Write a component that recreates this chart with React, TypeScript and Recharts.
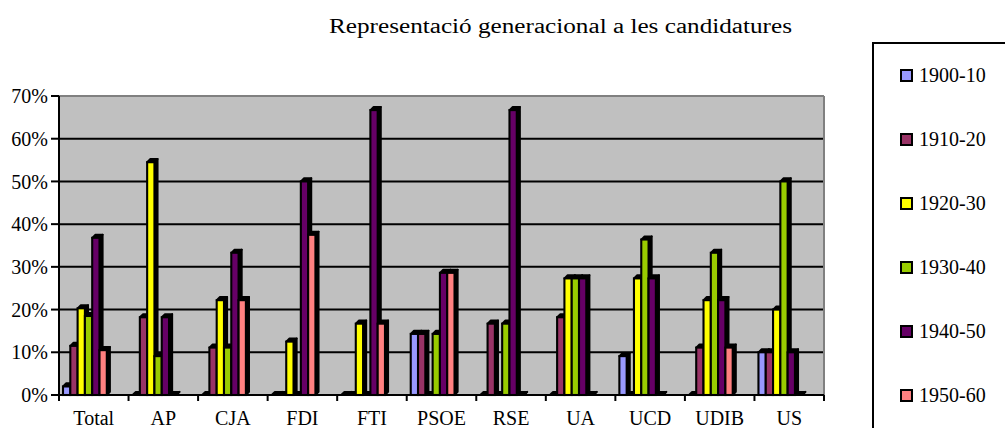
import React from 'react';
import { BarChart, Bar, XAxis, YAxis, CartesianGrid, Legend, ReferenceLine } from 'recharts';

const categories = ['Total', 'AP', 'CJA', 'FDI', 'FTI', 'PSOE', 'RSE', 'UA', 'UCD', 'UDIB', 'US'];
const seriesNames = ['1900-10', '1910-20', '1920-30', '1930-40', '1940-50', '1950-60'];
const s1900 = [2, 0, 0, 0, 0, 14.3, 0, 0, 9.1, 0, 10];
const s1910 = [11.5, 18.2, 11.1, 0, 0, 14.3, 16.7, 18.2, 0, 11.1, 10];
const s1920 = [20.3, 54.5, 22.2, 12.5, 16.7, 0, 0, 27.3, 27.3, 22.2, 20];
const s1930 = [18.5, 9.1, 11.1, 0, 0, 14.3, 16.7, 27.3, 36.4, 33.3, 50];
const s1940 = [36.8, 18.2, 33.3, 50, 66.7, 28.6, 66.7, 27.3, 27.3, 22.2, 10];
const s1950 = [10.5, 0, 22.2, 37.5, 16.7, 28.6, 0, 0, 0, 11.1, 0];
const seriesValues = [s1900, s1910, s1920, s1930, s1940, s1950];
const seriesColors = ['#9999FF', '#993366', '#FFFF00', '#99CC00', '#660066', '#FF8080'];
const yTicks = [0, 10, 20, 30, 40, 50, 60, 70];
const title = 'Representació generacional a les candidatures';

const data = categories.map((c, i) => {
  const row: Record<string, any> = { name: c };
  seriesNames.forEach((s, k) => {
    row[s] = seriesValues[k][i];
  });
  return row;
});

const W = 1005;
const H = 428;
const FONT = 'Liberation Serif';
const PLOT_LEFT = 59;
const PLOT_RIGHT = 824;
const BAND = (PLOT_RIGHT - PLOT_LEFT) / categories.length;
const SHIFT = -9;
const DEPTH = 3.2;

const Bar3D = (props: any) => {
  const { x, y, width, height, fill } = props;
  if (x == null || y == null) return null;
  const bx = x + SHIFT;
  const h = Math.max(0, height || 0);
  const d = DEPTH;
  const top = `${bx},${y} ${bx + d},${y - d} ${bx + width + d},${y - d} ${bx + width},${y}`;
  const side = `${bx + width},${y} ${bx + width + d},${y - d} ${bx + width + d},${y + h - d} ${bx + width},${y + h}`;
  return (
    <g>
      <polygon points={side} fill="#000" stroke="#000" strokeWidth={1.8} strokeLinejoin="round" />
      <polygon points={top} fill="#000" stroke="#000" strokeWidth={1.8} strokeLinejoin="round" />
      {h > 0 && (
        <rect x={bx} y={y} width={width} height={h} fill={fill} stroke="#000" strokeWidth={2.1} />
      )}
    </g>
  );
};

const XTick = (props: any) => {
  const { x, y, payload, index } = props;
  const axisY = y;
  const half = BAND / 2;
  return (
    <g>
      <line x1={x - half} y1={axisY} x2={x - half} y2={axisY + 6} stroke="#000" strokeWidth={2} />
      {index === categories.length - 1 && (
        <line x1={x + half} y1={axisY} x2={x + half} y2={axisY + 6} stroke="#000" strokeWidth={2} />
      )}
      <text x={x} y={axisY + 30} textAnchor="middle" style={{ fontFamily: FONT }} fontSize={20} fill="#000">
        {payload.value}
      </text>
    </g>
  );
};

const YTick = (props: any) => {
  const { x, y, payload } = props;
  return (
    <text x={x} y={y} dy="0.36em" textAnchor="end" style={{ fontFamily: FONT }} fontSize={20} fill="#000">
      {`${payload.value}%`}
    </text>
  );
};

const LegendContent = (props: any) => {
  const payload = props.payload || [];
  return (
    <div
      style={{
        width: 140,
        height: 400,
        border: '2px solid #000',
        boxSizing: 'border-box',
        background: '#fff',
        position: 'relative',
      }}
    >
      {payload.map((p: any, i: number) => (
        <div
          key={p.value}
          style={{
            position: 'absolute',
            left: 26,
            top: 31 + i * 64 - 12,
            height: 24,
            display: 'flex',
            alignItems: 'center',
            fontFamily: FONT,
            fontSize: 20,
            color: '#000',
            whiteSpace: 'nowrap',
          }}
        >
          <span
            style={{
              display: 'inline-block',
              width: 13,
              height: 13,
              boxSizing: 'border-box',
              border: '2px solid #000',
              background: p.color,
              marginRight: 6,
            }}
          />
          {p.value}
        </div>
      ))}
    </div>
  );
};

export default function App() {
  return (
    <div style={{ position: 'fixed', left: 0, top: 0, width: W, height: H, overflow: 'hidden', background: '#fff' }}>
      <BarChart
        width={W}
        height={H}
        data={data}
        margin={{ top: 96, right: W - PLOT_RIGHT, bottom: 0, left: 0 }}
        barGap={0}
        barSize={7.3}
      >
        <CartesianGrid vertical={false} stroke="#000" strokeWidth={2} fill="#C0C0C0" fillOpacity={1} />
        <XAxis
          dataKey="name"
          interval={0}
          tickLine={false}
          tickSize={0}
          tickMargin={0}
          height={33}
          axisLine={{ stroke: '#000', strokeWidth: 2 }}
          tick={<XTick />}
        />
        <YAxis
          domain={[0, 70]}
          ticks={yTicks}
          width={PLOT_LEFT}
          tickSize={8}
          tickMargin={3}
          tick={<YTick />}
          tickLine={{ stroke: '#000', strokeWidth: 2 }}
          axisLine={{ stroke: '#000', strokeWidth: 2 }}
          interval={0}
        />
        <ReferenceLine y={70} stroke="#808080" strokeWidth={2} />
        <ReferenceLine x="US" position="end" stroke="#808080" strokeWidth={2} />
        {seriesNames.map((s, k) => (
          <Bar key={s} dataKey={s} fill={seriesColors[k]} isAnimationActive={false} shape={<Bar3D />} />
        ))}
        <Legend
          layout="vertical"
          align="center"
          verticalAlign="middle"
          content={<LegendContent />}
          wrapperStyle={{ position: 'absolute', left: 872, top: 42, width: 140, height: 400 }}
        />
      </BarChart>
      <svg width={W} height={60} style={{ position: 'absolute', left: 0, top: 0 }}>
        <text
          x={560.5}
          y={33}
          textAnchor="middle"
          style={{ fontFamily: FONT }}
          fontSize={20}
          textLength={463}
          lengthAdjust="spacingAndGlyphs"
          fill="#000"
        >
          {title}
        </text>
      </svg>
    </div>
  );
}
